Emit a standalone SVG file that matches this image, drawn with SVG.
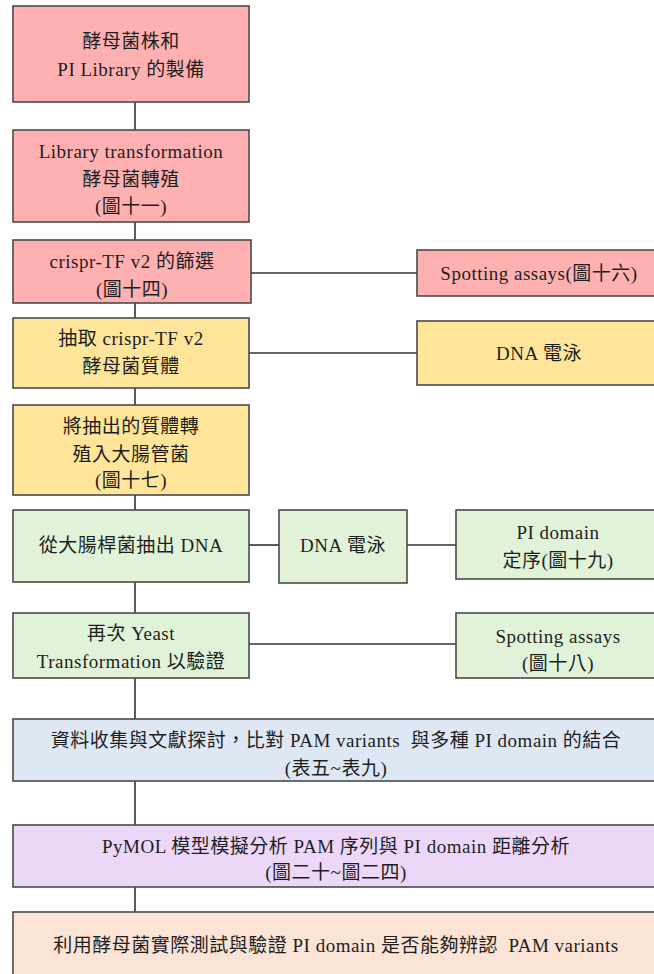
<svg xmlns="http://www.w3.org/2000/svg" width="654" height="974" viewBox="0 0 654 974">
<style>
  .box { stroke: #4a4a4a; stroke-width: 1.6; }
  .pink { fill: #ffb1b1; }
  .yellow { fill: #ffe599; }
  .green { fill: #e0f3d9; }
  .blue { fill: #dde8f4; }
  .purple { fill: #ecd7f9; }
  .peach { fill: #fbe3d5; }
  .lbl { font-family: "Liberation Serif", "Noto Sans CJK TC", serif; font-size: 19px; fill: #1e1e1e; text-anchor: middle; letter-spacing: 0.5px; }
  .conn { stroke: #333333; stroke-width: 1.6; fill: none; }
</style>
<rect width="654" height="974" fill="#ffffff"/>
<g id="connectors">
  <line class="conn" x1="135" y1="102" x2="135" y2="130"/>
  <line class="conn" x1="135" y1="222" x2="135" y2="240"/>
  <line class="conn" x1="135" y1="303" x2="135" y2="318"/>
  <line class="conn" x1="135" y1="388" x2="135" y2="405"/>
  <line class="conn" x1="135" y1="495" x2="135" y2="510"/>
  <line class="conn" x1="135" y1="582" x2="135" y2="613"/>
  <line class="conn" x1="135" y1="678" x2="135" y2="719"/>
  <line class="conn" x1="135" y1="781" x2="135" y2="825"/>
  <line class="conn" x1="135" y1="887" x2="135" y2="912"/>
  <line class="conn" x1="251" y1="273" x2="417" y2="273"/>
  <line class="conn" x1="249" y1="353" x2="417" y2="353"/>
  <line class="conn" x1="249" y1="545" x2="279" y2="545"/>
  <line class="conn" x1="407" y1="545" x2="456" y2="545"/>
  <line class="conn" x1="249" y1="644" x2="456" y2="644"/>
</g>
<g id="n1">
  <rect class="box pink" x="13" y="6" width="236" height="96"/>
  <text class="lbl" x="131" y="48">酵母菌株和</text>
  <text class="lbl" x="131" y="76">PI Library 的製備</text>
</g>
<g id="n2">
  <rect class="box pink" x="13" y="130" width="236" height="92"/>
  <text class="lbl" x="131" y="158">Library transformation</text>
  <text class="lbl" x="131" y="186">酵母菌轉殖</text>
  <text class="lbl" x="131" y="213">(圖十一)</text>
</g>
<g id="n3">
  <rect class="box pink" x="13" y="240" width="238" height="63"/>
  <text class="lbl" x="132" y="268">crispr-TF v2 的篩選</text>
  <text class="lbl" x="132" y="296">(圖十四)</text>
</g>
<g id="n3b">
  <rect class="box pink" x="417" y="250" width="244" height="46"/>
  <text class="lbl" x="539" y="280">Spotting assays(圖十六)</text>
</g>
<g id="n4">
  <rect class="box yellow" x="13" y="318" width="236" height="70"/>
  <text class="lbl" x="131" y="345">抽取 crispr-TF v2</text>
  <text class="lbl" x="131" y="373">酵母菌質體</text>
</g>
<g id="n4b">
  <rect class="box yellow" x="417" y="321" width="244" height="64"/>
  <text class="lbl" x="539" y="360">DNA 電泳</text>
</g>
<g id="n5">
  <rect class="box yellow" x="13" y="405" width="236" height="90"/>
  <text class="lbl" x="131" y="433">將抽出的質體轉</text>
  <text class="lbl" x="131" y="461">殖入大腸管菌</text>
  <text class="lbl" x="131" y="487">(圖十七)</text>
</g>
<g id="n6">
  <rect class="box green" x="13" y="510" width="236" height="72"/>
  <text class="lbl" x="131" y="552">從大腸桿菌抽出 DNA</text>
</g>
<g id="n6b">
  <rect class="box green" x="279" y="510" width="128" height="73"/>
  <text class="lbl" x="343" y="552">DNA 電泳</text>
</g>
<g id="n6c">
  <rect class="box green" x="456" y="510" width="205" height="69"/>
  <text class="lbl" x="558" y="539">PI domain</text>
  <text class="lbl" x="558" y="567">定序(圖十九)</text>
</g>
<g id="n7">
  <rect class="box green" x="13" y="613" width="236" height="65"/>
  <text class="lbl" x="131" y="640">再次 Yeast</text>
  <text class="lbl" x="131" y="668">Transformation 以驗證</text>
</g>
<g id="n7b">
  <rect class="box green" x="456" y="613" width="205" height="65"/>
  <text class="lbl" x="558" y="643">Spotting assays</text>
  <text class="lbl" x="558" y="670">(圖十八)</text>
</g>
<g id="n8">
  <rect class="box blue" x="13" y="719" width="646" height="62"/>
  <text class="lbl" x="336" y="747" xml:space="preserve">資料收集與文獻探討，比對 PAM variants  與多種 PI domain 的結合</text>
  <text class="lbl" x="336" y="775">(表五~表九)</text>
</g>
<g id="n9">
  <rect class="box purple" x="13" y="825" width="646" height="62"/>
  <text class="lbl" x="336" y="853">PyMOL 模型模擬分析 PAM 序列與 PI domain 距離分析</text>
  <text class="lbl" x="336" y="879">(圖二十~圖二四)</text>
</g>
<g id="n10">
  <rect class="box peach" x="13" y="912" width="646" height="70"/>
  <text class="lbl" x="336" y="952" xml:space="preserve">利用酵母菌實際測試與驗證 PI domain 是否能夠辨認  PAM variants</text>
</g>
</svg>
